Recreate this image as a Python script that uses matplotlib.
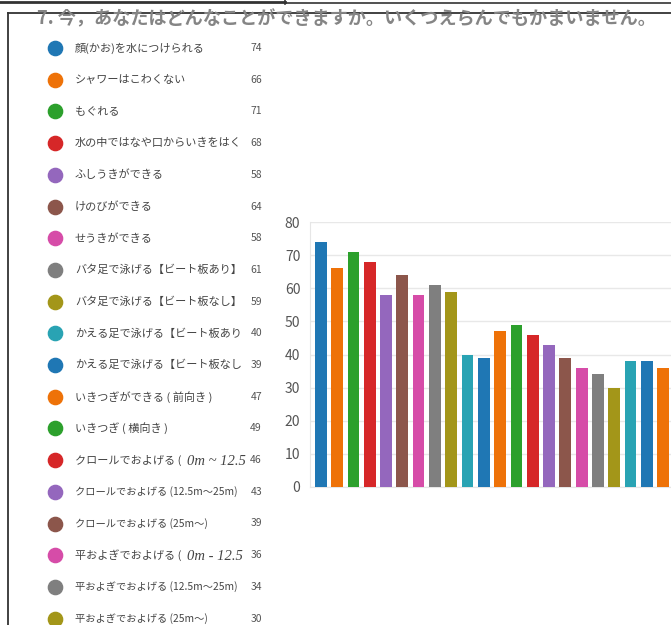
import matplotlib.pyplot as plt
from matplotlib.transforms import Bbox, TransformedBbox

plt.rcParams['font.family'] = ['Noto Sans CJK JP', 'DejaVu Sans']

title = '7. 今，あなたはどんなことができますか。いくつえらんでもかまいません。'
# labels as far as they are visible in the (truncated) legend
labels = [
    '顔(かお)を水につけられる',
    'シャワーはこわくない',
    'もぐれる',
    '水の中ではなや口からいきをはく',
    'ふしうきができる',
    'けのびができる',
    'せうきができる',
    'バタ足で泳げる【ビート板あり】',
    'バタ足で泳げる【ビート板なし】',
    'かえる足で泳げる【ビート板あり',
    'かえる足で泳げる【ビート板なし',
    'いきつぎができる ( 前向き )',
    'いきつぎ ( 横向き )',
    'クロールでおよげる ( 0m ~ 12.5',
    'クロールでおよげる (12.5m～25m)',
    'クロールでおよげる (25m～)',
    '平およぎでおよげる ( 0m - 12.5',
    '平およぎでおよげる (12.5m～25m)',
    '平およぎでおよげる (25m～)',
]
counts = [74, 66, 71, 68, 58, 64, 58, 61, 59, 40, 39, 47, 49, 46, 43, 39, 36, 34, 30, 38, 38, 36]
palette = ['#1f77b4', '#ee7208', '#2ca02c', '#d62728', '#9467bd',
           '#8c564b', '#d64ca8', '#7f7f7f', '#a39619', '#29a3b3']
colors = [palette[i % len(palette)] for i in range(len(counts))]

W, H = 671, 625
fig = plt.figure(figsize=(W / 100, H / 100), dpi=100)

# page layer in pixel coords
page = fig.add_axes([0, 0, 1, 1])
page.set_xlim(0, W)
page.set_ylim(H, 0)
page.axis('off')

# frame lines of the screenshot
page.plot([0, 285], [2, 2], color='#333333', lw=2)
page.plot([285, W], [2.5, 2.5], color='#333333', lw=1.2)
page.plot([285, 285], [0, 4], color='#333333', lw=1.2)
page.plot([8, W], [12.5, 12.5], color='#333333', lw=1.3)
page.plot([8, 8], [12.5, H], color='#333333', lw=1.3)

page.text(37, 19, title, fontsize=13.1, color='#858585', va='center', ha='left',
          fontweight='bold')

# legend
clip = TransformedBbox(Bbox([[0, 0], [247, H]]), page.transData)
fig.canvas.draw()
renderer = fig.canvas.get_renderer()
y0, step = 48, 31.7
for i, lab in enumerate(labels):
    y = y0 + i * step
    page.scatter([55], [y], s=105, color=colors[i], zorder=3)
    size = 7.4 if '25m' in lab else 8
    if '0m ' in lab:
        head, tail = lab.split('0m ', 1)
        t = page.text(75, y, head, fontsize=8, color='#444444', va='center')
        bb = t.get_window_extent(renderer)
        x2 = page.transData.inverted().transform((bb.x1, 0))[0] + 3
        t2 = page.text(x2, y + 1, '0m ' + tail, fontsize=10.5, color='#444444',
                       va='center', family='Liberation Serif', style='italic')
        t2.set_clip_box(clip)
        t2.set_clip_on(True)
    else:
        t = page.text(75, y, lab, fontsize=size, color='#444444', va='center')
    t.set_clip_box(clip)
    t.set_clip_on(True)
    page.text(262, y, str(counts[i]), fontsize=7.5, color='#555555',
              va='center', ha='right')

# bar chart
left, right = 310, W
top, bottom = 222, 487
ax = fig.add_axes([left / W, (H - bottom) / H, (right - left) / W, (bottom - top) / H])
ax.bar(range(len(counts)), counts, width=0.72, color=colors, zorder=3)
ax.set_xlim(-0.66, 21.48)
ax.set_ylim(0, 80)
ax.set_yticks(range(0, 81, 10))
ax.set_xticks([])
ax.tick_params(axis='y', length=0, pad=7, labelsize=10, labelcolor='#555555')
ax.grid(axis='y', color='#e8e8e8', lw=1, zorder=0)
for s in ['top', 'right']:
    ax.spines[s].set_visible(False)
ax.spines['left'].set_color('#e6e6e6')
ax.spines['bottom'].set_color('#e6e6e6')

fig.savefig('out.png', dpi=100)
